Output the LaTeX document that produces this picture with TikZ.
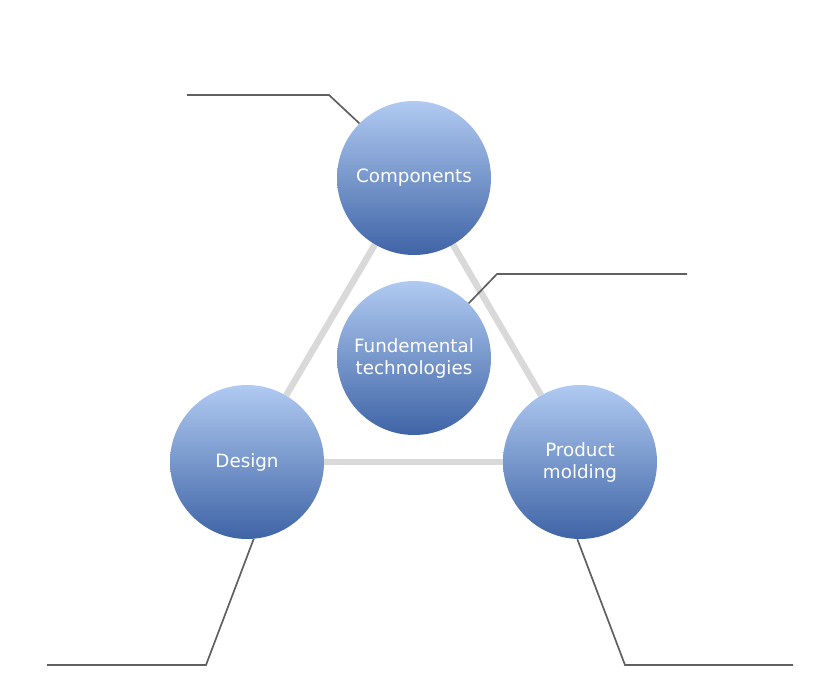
\documentclass[tikz,border=0pt]{standalone}
\usepackage{fontspec}
\setmainfont{DejaVu Sans}
\usetikzlibrary{backgrounds}
\definecolor{kreishell}{RGB}{176,202,241}
\definecolor{kreisdunkel}{RGB}{63,100,166}
\definecolor{dreieck}{RGB}{217,217,217}
\definecolor{zeiger}{RGB}{96,96,96}
\begin{document}
\begin{tikzpicture}[
    x=1pt, y=-1pt,
    font=\fontsize{18.3}{22}\selectfont,
    kreis/.style={circle, minimum size=154pt, inner sep=0pt, align=center,
      text=white, top color=kreishell, bottom color=kreisdunkel},
    kante/.style={line width=6.5pt, dreieck},
    linie/.style={line width=1.7pt, zeiger}
  ]
  \useasboundingbox (0,0) rectangle (840,700);

  \node[kreis] (komp) at (414,178) {Components};
  \node[kreis] (grund) at (414,358) {Fundemental\\ technologies};
  \node[kreis] (des) at (247,462) {Design};
  \node[kreis] (prod) at (580,462) {Product\\ molding};

  \begin{pgfonlayer}{background}
    \draw[kante] (komp) -- (des);
    \draw[kante] (komp) -- (prod);
    \draw[kante] (des) -- (prod);
  \end{pgfonlayer}

  \coordinate (k1) at (329,95);
  \coordinate (k2) at (187,95);
  \draw[linie] (komp.135) -- (k1) -- (k2);

  \coordinate (g1) at (497,274);
  \coordinate (g2) at (687,274);
  \draw[linie] (grund.45) -- (g1) -- (g2);

  \coordinate (d1) at (206,665);
  \coordinate (d2) at (47,665);
  \draw[linie] (des.-85) -- (d1) -- (d2);

  \coordinate (p1) at (625,665);
  \coordinate (p2) at (793,665);
  \draw[linie] (prod.-92) -- (p1) -- (p2);
\end{tikzpicture}
\end{document}
